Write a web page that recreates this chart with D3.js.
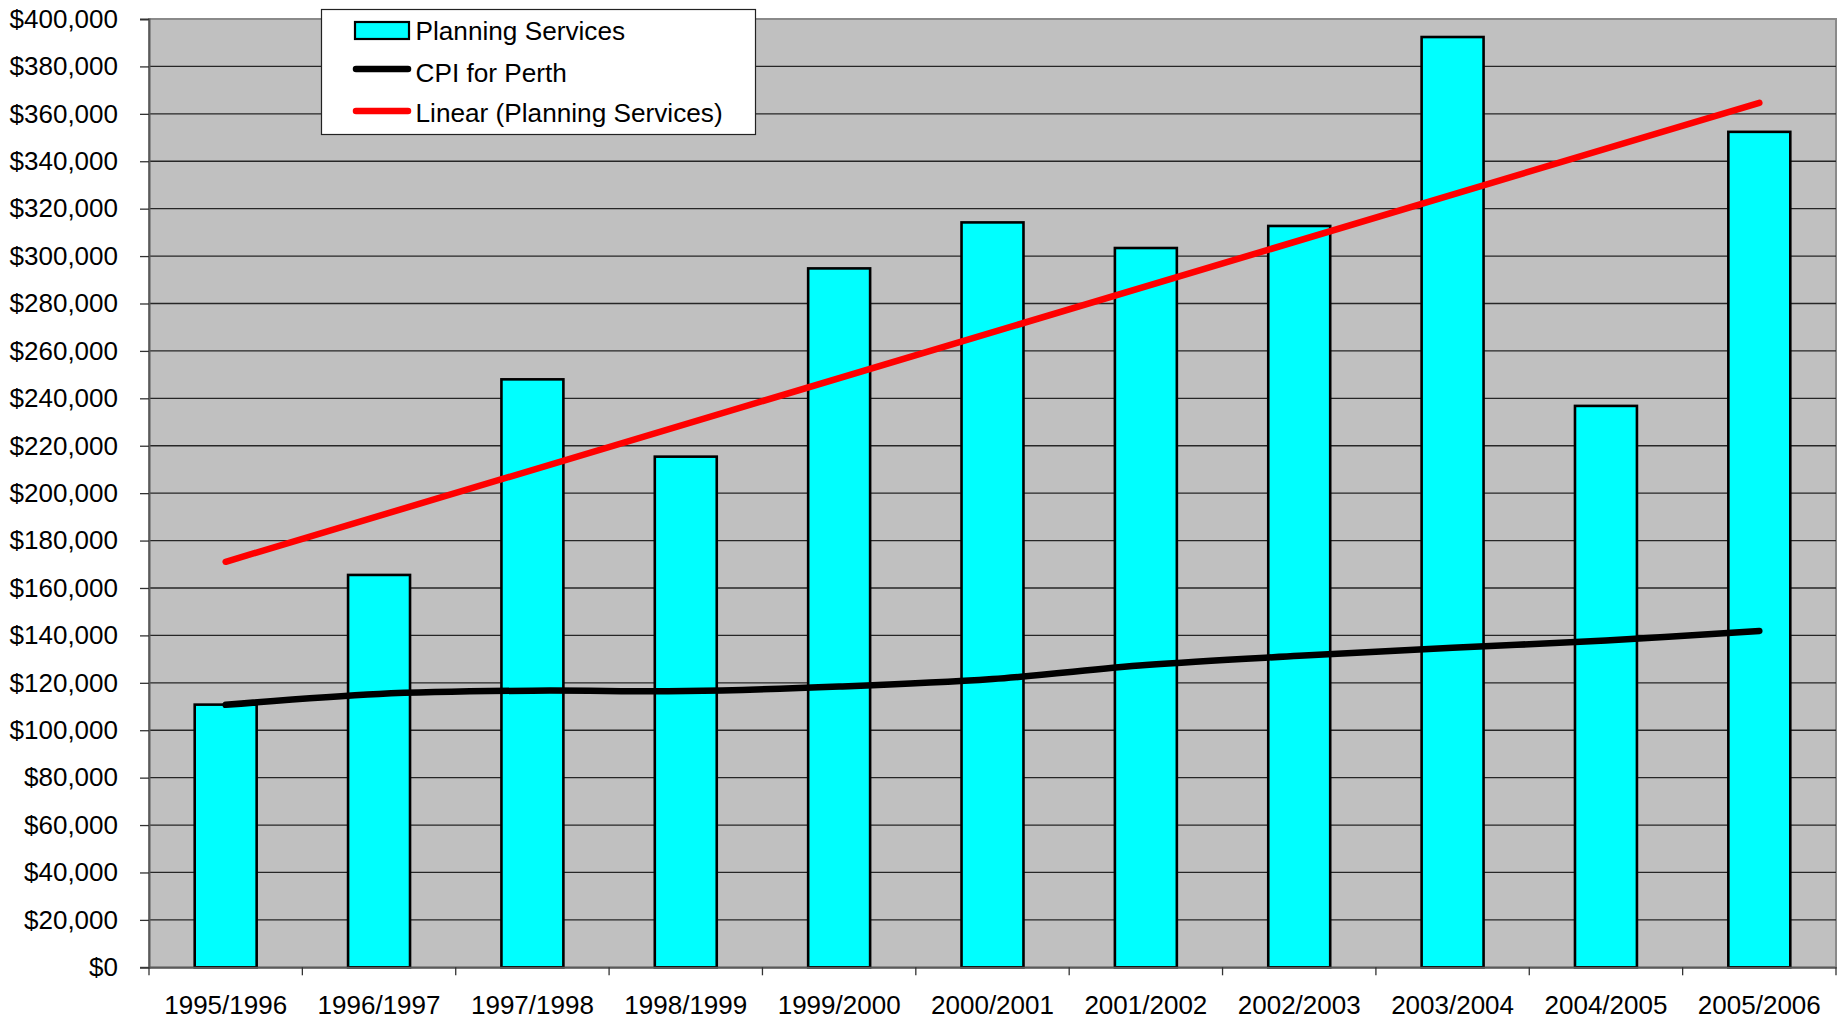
<!doctype html>
<html>
<head>
<meta charset="utf-8">
<style>
  body { margin: 0; background: #fff; }
  svg text { font-family: "Liberation Sans", Arial, sans-serif; fill: #000; }
</style>
<script src="https://d3js.org/d3.v7.min.js"></script>
</head>
<body>
<svg width="1845" height="1021"></svg>
<script>
// data
var years = ["1995/1996", "1996/1997", "1997/1998", "1998/1999", "1999/2000", "2000/2001",
             "2001/2002", "2002/2003", "2003/2004", "2004/2005", "2005/2006"];
var planning = [110800, 165500, 248000, 215400, 294800, 314200, 303400, 312700, 392400, 236800, 352400];
var cpiPerth = [110700, 115300, 116700, 116500, 118400, 121600, 127500, 131400, 134800, 137800, 141900];
var yTicks = d3.range(0, 400001, 20000);
var legendLabels = ["Planning Services", "CPI for Perth", "Linear (Planning Services)"];

var svg = d3.select("svg"),
    plotL = 149, plotT = 19, plotR = 1836, plotB = 967.3;

var x = d3.scaleBand().domain(years).range([plotL, plotR]).padding(0);
var y = d3.scaleLinear().domain([0, 400000]).range([plotB, plotT]);
var barW = x.bandwidth() * 0.404;
var cx = function(d) { return x(d) + x.bandwidth() / 2; };

// plot area
svg.append("rect")
   .attr("x", plotL).attr("y", plotT)
   .attr("width", plotR - plotL).attr("height", plotB - plotT)
   .attr("fill", "#c0c0c0")
   .attr("stroke", "#8a8a8a").attr("stroke-width", 2);

// gridlines
svg.append("g").selectAll("line")
   .data(yTicks.slice(1, -1))
   .enter().append("line")
   .attr("x1", plotL).attr("x2", plotR)
   .attr("y1", function(d) { return y(d); })
   .attr("y2", function(d) { return y(d); })
   .attr("stroke", "#262626").attr("stroke-width", 1.3);

// bars
svg.append("g").selectAll("rect")
   .data(planning)
   .enter().append("rect")
   .attr("x", function(d, i) { return cx(years[i]) - barW / 2; })
   .attr("y", function(d) { return y(d); })
   .attr("width", barW)
   .attr("height", function(d) { return plotB - y(d); })
   .attr("fill", "#00ffff")
   .attr("stroke", "#000").attr("stroke-width", 2.6);

// CPI line (smoothed like excel)
var cpiLine = d3.line()
    .x(function(d, i) { return cx(years[i]); })
    .y(function(d) { return y(d); })
    .curve(d3.curveCatmullRom.alpha(0.5));

svg.append("path")
   .datum(cpiPerth)
   .attr("d", cpiLine)
   .attr("fill", "none")
   .attr("stroke", "#000").attr("stroke-width", 6.5)
   .attr("stroke-linecap", "round").attr("stroke-linejoin", "round");

// linear trendline of planning services (least squares, as excel does)
var n = planning.length,
    mx = d3.mean(planning, function(d, i) { return i; }),
    my = d3.mean(planning),
    sxy = d3.sum(planning, function(d, i) { return (i - mx) * (d - my); }),
    sxx = d3.sum(planning, function(d, i) { return (i - mx) * (i - mx); }),
    slope = sxy / sxx,
    icpt = my - slope * mx;
var trend = [icpt, icpt + slope * (n - 1)];

svg.append("line")
   .attr("x1", cx(years[0])).attr("y1", y(trend[0]))
   .attr("x2", cx(years[n - 1])).attr("y2", y(trend[1]))
   .attr("stroke", "#ff0000").attr("stroke-width", 6.5)
   .attr("stroke-linecap", "round");

// y axis
var yAxis = svg.append("g")
   .attr("transform", "translate(" + plotL + ",0)")
   .call(d3.axisLeft(y).tickValues(yTicks)
      .tickFormat(function(d) { return "$" + d3.format(",")(d); })
      .tickSize(9).tickPadding(22));
yAxis.select(".domain").attr("stroke", "#5a5a5a").attr("stroke-width", 2);
yAxis.selectAll(".tick line").attr("stroke", "#333").attr("stroke-width", 1.3);
yAxis.selectAll("text").attr("font-size", 26).attr("font-family", null);

// x axis
var xAxis = svg.append("g")
   .attr("transform", "translate(0," + plotB + ")")
   .call(d3.axisBottom(x).tickSize(0).tickPadding(28));
xAxis.select(".domain").attr("stroke", "#5a5a5a").attr("stroke-width", 2);
xAxis.selectAll("text").attr("font-size", 26).attr("font-family", null);

// category boundary ticks
var bounds = years.map(function(d) { return x(d); }).concat([plotR]);
svg.append("g").selectAll("line")
   .data(bounds)
   .enter().append("line")
   .attr("x1", function(d) { return d; }).attr("x2", function(d) { return d; })
   .attr("y1", plotB).attr("y2", plotB + 8)
   .attr("stroke", "#333").attr("stroke-width", 1.3);

// legend
var lg = svg.append("g");
lg.append("rect")
  .attr("x", 321.5).attr("y", 9.5).attr("width", 434).attr("height", 125)
  .attr("fill", "#fff").attr("stroke", "#222").attr("stroke-width", 1.2);

var symY = [30.5, 69, 111];
var textY = [39.5, 81.5, 121.5];
lg.append("rect")
  .attr("x", 355).attr("y", symY[0] - 8.5).attr("width", 54).attr("height", 17)
  .attr("fill", "#00ffff").attr("stroke", "#000").attr("stroke-width", 2.2);
lg.append("line")
  .attr("x1", 356).attr("x2", 408).attr("y1", symY[1]).attr("y2", symY[1])
  .attr("stroke", "#000").attr("stroke-width", 6.5).attr("stroke-linecap", "round");
lg.append("line")
  .attr("x1", 356).attr("x2", 408).attr("y1", symY[2]).attr("y2", symY[2])
  .attr("stroke", "#ff0000").attr("stroke-width", 6.5).attr("stroke-linecap", "round");

lg.selectAll("text.lbl")
  .data(legendLabels)
  .enter().append("text")
  .attr("class", "lbl")
  .attr("x", 415.5)
  .attr("y", function(d, i) { return textY[i]; })
  .attr("font-size", 26.2)
  .text(function(d) { return d; });
</script>
</body>
</html>
